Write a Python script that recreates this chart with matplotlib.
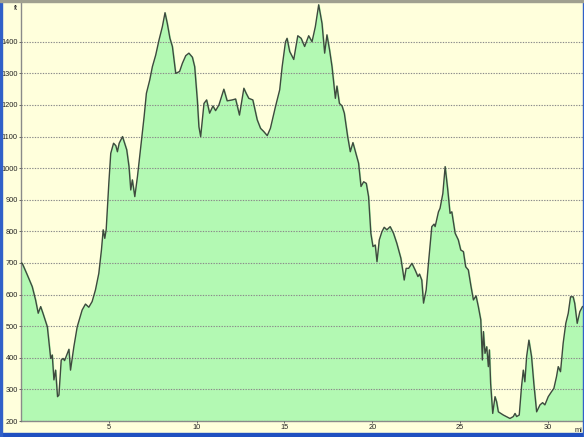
import matplotlib
matplotlib.use("Agg")
import matplotlib.pyplot as plt
from matplotlib.patches import Rectangle

# distance (mi) and elevation (ft)
miles = [0.0, 0.07, 0.36, 0.64, 0.83, 0.98, 1.12, 1.25, 1.5, 1.69, 1.78, 1.875, 1.97, 2.08, 2.16,
         2.29, 2.4, 2.48, 2.73, 2.82, 3.01, 3.2, 3.48, 3.67, 3.86, 4.05, 4.24, 4.43, 4.58, 4.68,
         4.77, 4.85, 5.0, 5.11, 5.27, 5.4, 5.49, 5.59, 5.78, 6.02, 6.15, 6.25, 6.34, 6.48, 6.63,
         6.82, 7.01, 7.14, 7.33, 7.48, 7.67, 7.86, 8.05, 8.2, 8.33, 8.48, 8.62, 8.81, 9.03, 9.19,
         9.38, 9.56, 9.76, 9.89, 10.04, 10.13, 10.23, 10.42, 10.57, 10.74, 10.93, 11.08, 11.27,
         11.55, 11.74, 12.03, 12.22, 12.44, 12.69, 12.82, 12.97, 13.2, 13.45, 13.64, 13.82, 14.02,
         14.2, 14.49, 14.73, 14.87, 15.06, 15.15, 15.3, 15.53, 15.76, 15.95, 16.15, 16.38, 16.57,
         16.76, 16.95, 17.14, 17.29, 17.42, 17.57, 17.71, 17.9, 17.99, 18.13, 18.28, 18.41, 18.6,
         18.75, 18.9, 19.09, 19.22, 19.36, 19.51, 19.66, 19.79, 19.92, 20.04, 20.17, 20.27, 20.4,
         20.55, 20.68, 20.83, 21.02, 21.21, 21.4, 21.63, 21.82, 21.93, 22.07, 22.26, 22.44, 22.6,
         22.69, 22.82, 22.92, 23.07, 23.2, 23.39, 23.52, 23.58, 23.77, 23.86, 24.02, 24.15, 24.3,
         24.43, 24.53, 24.72, 24.9, 25.04, 25.19, 25.32, 25.47, 25.61, 25.76, 25.91, 26.04, 26.18,
         26.27, 26.33, 26.42, 26.52, 26.61, 26.67, 26.74, 26.86, 26.99, 27.08, 27.18, 27.46, 27.84,
         28.03, 28.13, 28.22, 28.37, 28.5, 28.6, 28.69, 28.79, 28.92, 29.07, 29.2, 29.36, 29.55,
         29.7, 29.83, 30.02, 30.21, 30.34, 30.49, 30.59, 30.72, 30.87, 31.02, 31.16, 31.29, 31.44,
         31.53, 31.67, 31.82, 31.97]
elev = [700, 699, 662, 625, 583, 541, 562, 541, 498, 398, 409, 330, 361, 277, 282,
        393, 398, 391, 427, 361, 435, 498, 551, 570, 560, 578, 615, 667, 741, 805,
        778, 805, 952, 1047, 1079, 1071, 1052, 1079, 1100, 1058, 1005, 931, 963, 910, 973,
        1068, 1163, 1237, 1279, 1321, 1358, 1406, 1448, 1492, 1458, 1411, 1385, 1300, 1306, 1332,
        1356, 1364, 1351, 1321, 1216, 1131, 1100, 1205, 1216, 1174, 1197, 1182, 1200,
        1250, 1213, 1216, 1219, 1168, 1253, 1237, 1221, 1216, 1153, 1126, 1116, 1103,
        1126, 1195, 1248, 1321, 1400, 1411, 1369, 1344, 1419, 1411, 1385, 1419, 1400,
        1448, 1517, 1458, 1364, 1422, 1374, 1321, 1221, 1260, 1205, 1197, 1174, 1100,
        1052, 1081, 1042, 1016, 942, 957, 952, 910, 794, 752, 757, 704, 773,
        799, 813, 805, 815, 794, 762, 715, 646, 683, 683, 699, 678, 657,
        665, 646, 573, 615, 699, 815, 823, 815, 862, 873, 920, 1005, 931,
        857, 862, 794, 773, 741, 736, 688, 678, 630, 583, 596, 562, 520,
        393, 483, 414, 435, 372, 425, 319, 224, 277, 261, 229, 219, 208,
        214, 224, 214, 219, 309, 361, 324, 404, 456, 404, 319, 229, 251,
        258, 251, 277, 293, 303, 340, 372, 356, 446, 509, 541, 593, 593,
        572, 509, 546, 562]

x_ticks = [5, 10, 15, 20, 25, 30]
y_ticks = [200, 300, 400, 500, 600, 700, 800, 900, 1000, 1100, 1200, 1300, 1400]

bg = "#FFFFDC"
plt.rcParams["font.family"] = ["Liberation Sans", "DejaVu Sans"]

fig = plt.figure(figsize=(5.84, 4.37), dpi=100, facecolor=bg)
ax = fig.add_axes([21 / 584, 16 / 437, 562 / 584, 420 / 437])
ax.set_facecolor(bg)

ax.fill_between(miles, elev, 150, color="#B3F9B3", zorder=1)
ax.plot(miles, elev, color="#3E4A3E", lw=1.0, zorder=3)

ax.set_xlim(0, 32)
ax.set_ylim(200, 1529)
ax.set_xticks(x_ticks)
ax.set_yticks(y_ticks)
ax.grid(axis="y", color="#8A8A8A", linestyle=(0, (1.2, 1.2)), linewidth=0.8, zorder=2)
ax.set_axisbelow(False)
ax.tick_params(axis="both", labelsize=5.3, length=1.5, width=0.6, colors="#555555",
               labelcolor="#222222", pad=0.8)

for side in ["top", "right"]:
    ax.spines[side].set_visible(False)
for side in ["left", "bottom"]:
    ax.spines[side].set_color("#8A8A8A")
    ax.spines[side].set_linewidth(1.0)

# unit labels
fig.text(16 / 584, 1 - 9 / 437, "ft", fontsize=5.3, ha="center", va="center", color="#222222")
fig.text(578 / 584, 1 - 430 / 437, "mi", fontsize=5.3, ha="center", va="center", color="#222222")

# window frame
fig.patches.append(Rectangle((0, 0), 1, 4 / 437, transform=fig.transFigure,
                             color="#2050C0", zorder=10))
fig.patches.append(Rectangle((0, 0), 1.5 / 584, 1, transform=fig.transFigure,
                             color="#3060C8", zorder=10))
fig.patches.append(Rectangle((582.5 / 584, 0), 1.5 / 584, 1, transform=fig.transFigure,
                             color="#3060C8", zorder=10))
fig.patches.append(Rectangle((0, 1 - 2 / 437), 1, 2 / 437, transform=fig.transFigure,
                             color="#A0A090", zorder=10))

plt.savefig("out.png", dpi=100, facecolor=bg)
